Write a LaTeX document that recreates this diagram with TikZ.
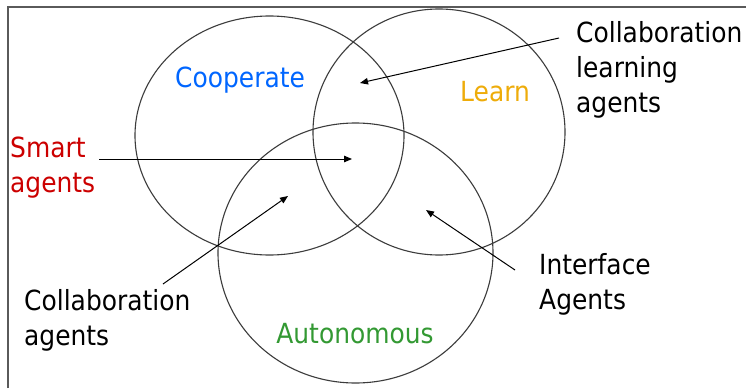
\documentclass[tikz,border=0pt]{standalone}
\usepackage{fontspec}
\setmainfont{DejaVu Sans}[FakeStretch=0.9]
\usetikzlibrary{arrows.meta}
\definecolor{coopblue}{RGB}{0,102,255}
\definecolor{learnorange}{RGB}{238,172,10}
\definecolor{smartred}{RGB}{204,0,0}
\definecolor{autogreen}{RGB}{51,153,51}
\definecolor{ringgray}{RGB}{60,60,60}
\definecolor{framegray}{RGB}{90,90,90}
\begin{document}
\begin{tikzpicture}[x=1pt,y=-1pt,
  lbl/.style={anchor=base west,inner sep=0pt,align=left,font=\fontsize{27.7}{35}\selectfont},
  ring/.style={draw=ringgray,line width=1.1pt},
  pointer/.style={draw=black,line width=1pt,-{Triangle[length=8pt,width=6.5pt]}}]
\useasboundingbox (0,0) rectangle (746,388);
\fill[white] (0,0) rectangle (746,388);
% frame
\draw[framegray,line width=1.6pt] (8,388) -- (8,7) -- (746,7);
% sets
\draw[ring] (269.5,135.5) ellipse [x radius=134.5, y radius=119.5];
\draw[ring] (439,132) ellipse [x radius=126, y radius=123];
\draw[ring] (355.5,253) ellipse [x radius=137.5, y radius=130];
% set labels
\node[lbl,text=coopblue] (coop) at (175,87) {Cooperate};
\node[lbl,text=learnorange] (learn) at (460,101) {Learn};
\node[lbl,text=autogreen,anchor=base] (auto) at (355,343) {Autonomous};
% agent labels (base = baseline of last line)
\node[lbl,text=smartred] (smart) at (10,192) {Smart\\agents};
\node[lbl] (cla) at (576,112) {Collaboration\\learning\\agents};
\node[lbl] (ca) at (24,345) {Collaboration\\agents};
\node[lbl] (ia) at (539,309) {Interface\\Agents};
% arrow ends
\coordinate (smartS) at (99,159);
\coordinate (smartE) at (352,159);
\coordinate (claS) at (559,38);
\coordinate (claE) at (360,83);
\coordinate (caS) at (163,284);
\coordinate (caE) at (288,196);
\coordinate (iaS) at (515,270);
\coordinate (iaE) at (426,210);
\draw[pointer] (smartS) -- (smartE);
\draw[pointer] (claS) -- (claE);
\draw[pointer] (caS) -- (caE);
\draw[pointer] (iaS) -- (iaE);
\end{tikzpicture}
\end{document}
